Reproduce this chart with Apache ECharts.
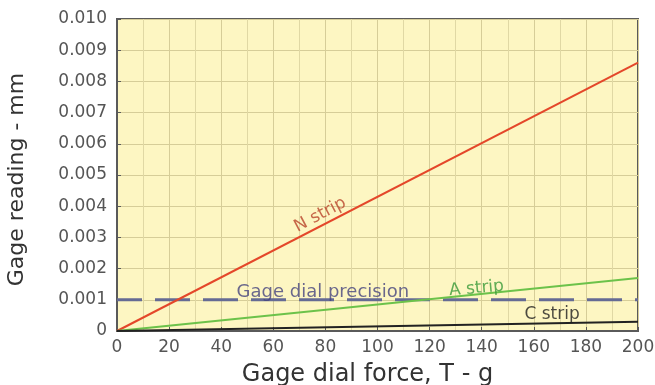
<!DOCTYPE html>
<html><head><meta charset="utf-8">
<script src="https://cdn.jsdelivr.net/npm/echarts@6/dist/echarts.min.js"></script>
<style>html,body{margin:0;padding:0;background:#fff}#c{width:655px;height:385px}</style>
</head><body><div id="c"></div>
<script>
const force = [0, 200];
const nStrip = [0, 0.0086];
const aStrip = [0, 0.0017];
const cStrip = [0, 0.0003];
const precision = [0.001, 0.001];
const xTicks = [0, 20, 40, 60, 80, 100, 120, 140, 160, 180, 200];
const yTicks = ['0', '0.001', '0.002', '0.003', '0.004', '0.005', '0.006', '0.007', '0.008', '0.009', '0.010'];
const labels = [
  {text: 'N strip', x: 78, y: 0.00372, rot: 28, color: '#b8442a', size: 17},
  {text: 'Gage dial precision', x: 79, y: 0.00123, rot: 0, color: '#45447e', size: 18},
  {text: 'A strip', x: 138, y: 0.00136, rot: 5, color: '#389a38', size: 17},
  {text: 'C strip', x: 167, y: 0.00054, rot: 0, color: '#1e1e1e', size: 17}
];
const pts = a => force.map((f, i) => [f, a[i]]);
const font = 'DejaVu Sans, Verdana, sans-serif';
const chart = echarts.init(document.getElementById('c'), null, {renderer: 'canvas'});
chart.setOption({
  animation: false,
  grid: {left: 117, right: 17, top: 19, bottom: 54, outerBoundsMode: 'none', containLabel: false,
    show: true, backgroundColor: '#fdf6c2', borderColor: '#5a5a5a', borderWidth: 2},
  xAxis: {
    type: 'value', min: 0, max: 200, interval: 20,
    name: 'Gage dial force, T - g', nameLocation: 'middle', nameGap: 32,
    nameTextStyle: {fontFamily: font, fontSize: 24, color: '#333', padding: [0, 20, 0, 0]},
    axisLine: {show: true, lineStyle: {color: '#5a5a5a', width: 2}},
    axisTick: {show: true, inside: true, length: 4, lineStyle: {color: '#5a5a5a'}},
    axisLabel: {fontFamily: font, fontSize: 17, color: '#555', margin: 8, formatter: v => xTicks.includes(v) ? String(v) : ''},
    splitLine: {show: true, lineStyle: {color: '#d6cd98', width: 1}},
    minorTick: {show: false, splitNumber: 2},
    minorSplitLine: {show: true, lineStyle: {color: '#e0d8a4', width: 1}}
  },
  yAxis: {
    type: 'value', min: 0, max: 0.01, interval: 0.001,
    name: 'Gage reading - mm', nameLocation: 'middle', nameGap: 89, nameRotate: 90,
    nameTextStyle: {fontFamily: font, fontSize: 22, color: '#333', padding: [0, 9, 0, 0]},
    axisLine: {show: true, lineStyle: {color: '#5a5a5a', width: 2}},
    axisTick: {show: true, inside: true, length: 4, lineStyle: {color: '#5a5a5a'}},
    axisLabel: {fontFamily: font, fontSize: 17, color: '#555', margin: 10, formatter: v => yTicks[Math.round(v / 0.001)]},
    splitLine: {show: true, lineStyle: {color: '#d6cd98', width: 1}}
  },
  series: [
    {type: 'line', data: pts(precision), symbol: 'none', lineStyle: {color: '#656b94', width: 3, type: [35, 13], dashOffset: 10}, z: 2},
    {type: 'line', data: pts(nStrip), symbol: 'none', lineStyle: {color: '#e4472a', width: 2}, z: 3},
    {type: 'line', data: pts(aStrip), symbol: 'none', lineStyle: {color: '#6cc24a', width: 2}, z: 3},
    {type: 'line', data: pts(cStrip), symbol: 'none', lineStyle: {color: '#222', width: 2}, z: 3},
    {type: 'scatter', symbolSize: 0, z: 5,
      data: labels.map(l => ({value: [l.x, l.y], label: {rotate: l.rot, color: l.color, fontSize: l.size}})),
      label: {show: true, position: 'inside', fontFamily: font, fontSize: 17,
        formatter: p => labels[p.dataIndex].text},
      itemStyle: {color: 'transparent'}
    }
  ]
});
</script></body></html>
